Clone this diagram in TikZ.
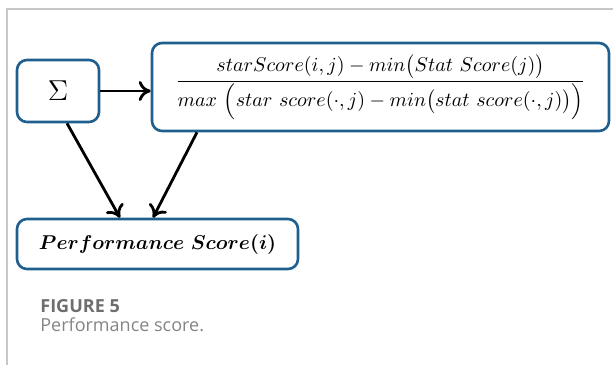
\documentclass[tikz,border=0pt]{standalone}
\usepackage{amsmath,amssymb}
\usepackage{fontspec}
\newfontfamily\capfont{Open Sans}
\usepackage{tikz}
\usetikzlibrary{positioning,arrows.meta,calc}
\definecolor{boxblue}{HTML}{1F5F8F}
\definecolor{framegray}{HTML}{C8C8C8}
\definecolor{capgray}{HTML}{6E6E6E}

\begin{document}
\begin{tikzpicture}[
    x=0.5pt, y=-0.5pt,
    scorebox/.style={draw=boxblue, line width=1.3pt, rounded corners=5pt, fill=white, inner sep=0pt},
    flow/.style={-{To[length=6pt,width=10pt]}, line width=1.4pt, black},
    captext/.style={anchor=north west, inner sep=0pt, text=capgray}
]
    % cadre de la figure
    \useasboundingbox (0,0) rectangle (613,365);
    \draw[framegray, line width=0.7pt] (7,365) -- (7,9) -- (613,9);

    % --- blocs ---
    \node[scorebox, minimum width=41pt, minimum height=31pt] (sigma) at (58,91) {\Large $\Sigma$};

    \node[scorebox, minimum width=228.5pt, minimum height=44pt, font=\fontsize{10}{12}\selectfont] (formula) at (380.5,87) {
        $\dfrac{starScore(i,j) - min\big(Stat\ Score(j)\big)}{max\ \Big(star\ score(\cdot,j) - min\big(stat\ score(\cdot,j)\big)\Big)}$
    };

    \node[scorebox, minimum width=140.5pt, minimum height=25pt, font=\fontsize{10}{12}\selectfont] (perf) at (157.5,244) {
        $\boldsymbol{Performance\ Score(i)}$
    };

    % --- fleches ---
    \draw[flow] (sigma.east) -- (sigma.east -| formula.west);
    \draw[flow] ($(sigma.south)+(9,0)$) -- ($(perf.north)+(-37.5,0)$);
    \draw[flow] ($(formula.south)+(-183.5,0)$) -- ($(perf.north)+(-4.5,0)$);

    % --- legende ---
    \node[captext, font=\capfont\bfseries\fontsize{9}{11}\selectfont] (figlabel) at (40,299) {FIGURE 5};
    \node[captext, text=capgray!85, font=\capfont\fontsize{9}{11}\selectfont] (figcaption) at (40,317) {Performance score.};

\end{tikzpicture}
\end{document}
